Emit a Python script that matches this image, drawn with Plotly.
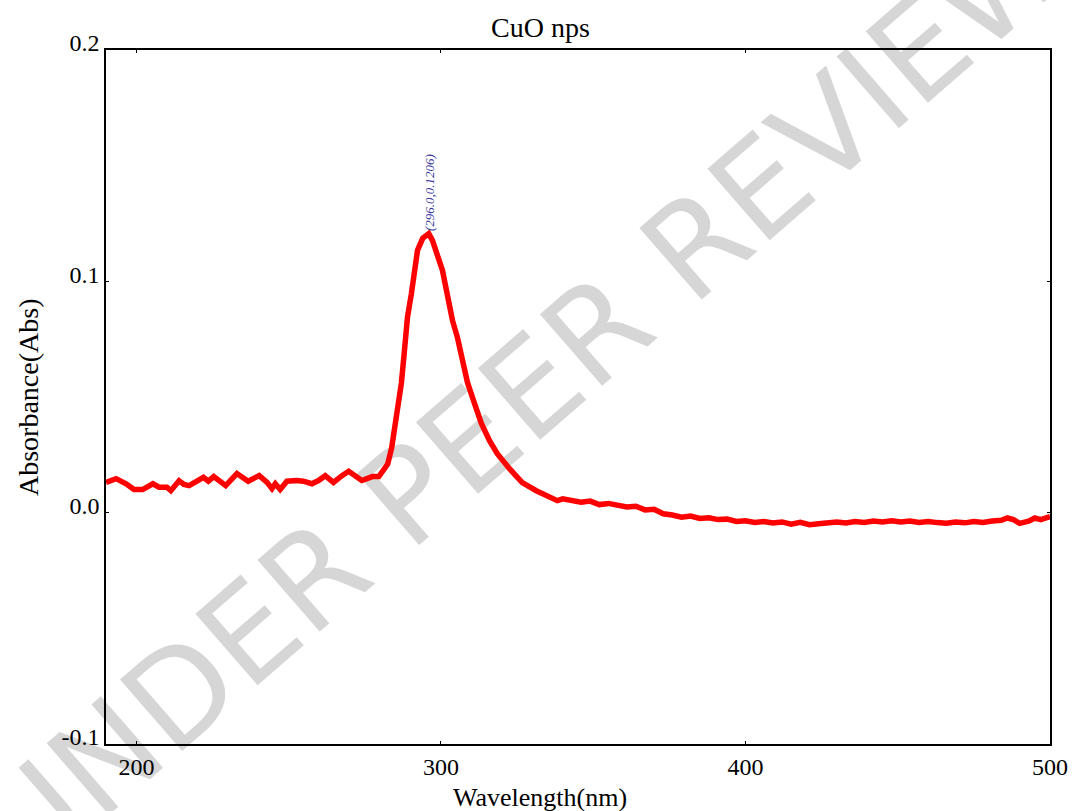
import plotly.graph_objects as go

# ---- data ----
wavelength = [
    190, 193.3, 196.6, 199.2, 202, 205.4, 207.4, 210, 211.3, 214, 215.6, 217.3,
    222, 223.6, 225.4, 229.3, 233, 236.7, 240.3, 242.9, 244.5, 245.6, 247.2,
    249.4, 252.6, 254.8, 257.6, 259.8, 262, 264.7, 267.5, 269.7, 274, 277.5,
    279.6, 281.3, 282.5, 283.8, 285.4, 287, 288, 289, 290.3, 291.3, 292.3,
    294, 296, 297.2, 298.9, 300.5, 302, 303.8, 305.4, 307, 308.7, 311, 313.3,
    315.9, 318.5, 322.5, 326.7, 331.3, 335.6, 338.2, 340, 343, 346, 349, 352,
    355, 358, 361, 364, 367, 370, 373, 376, 379, 382, 385, 388, 391, 394, 397,
    400, 403, 406, 409, 412, 415, 418, 421, 424, 427, 430, 433, 436, 439, 442,
    445, 448, 451, 454, 457, 460, 463, 466, 469, 472, 475, 478, 481, 484, 486,
    488, 490, 493, 495, 497, 500,
]
absorbance = [
    0.0131, 0.0147, 0.0125, 0.0100, 0.0100, 0.0125, 0.0110, 0.0110, 0.0095,
    0.0138, 0.0122, 0.0117, 0.0153, 0.0136, 0.0156, 0.0117, 0.0169, 0.0136,
    0.0160, 0.0131, 0.0104, 0.0125, 0.0100, 0.0136, 0.0139, 0.0136, 0.0125,
    0.0139, 0.0160, 0.0131, 0.0160, 0.0179, 0.0139, 0.0156, 0.0156, 0.0186,
    0.0210, 0.0280, 0.0410, 0.0560, 0.0700, 0.0844, 0.0948, 0.1060, 0.1134,
    0.1186, 0.1206, 0.1177, 0.1110, 0.1047, 0.0948, 0.0830, 0.0758, 0.0658,
    0.0563, 0.0472, 0.0385, 0.0312, 0.0255, 0.0190, 0.0130, 0.0095, 0.0065,
    0.0052, 0.0060, 0.0050, 0.0045, 0.0050, 0.0035, 0.0040, 0.0030, 0.0025,
    0.0028, 0.0012, 0.0015, -0.0005, -0.0010, -0.0020, -0.0015, -0.0025,
    -0.0022, -0.0030, -0.0028, -0.0038, -0.0035, -0.0042, -0.0038, -0.0045,
    -0.0040, -0.0050, -0.0042, -0.0052, -0.0048, -0.0045, -0.0040, -0.0045,
    -0.0038, -0.0042, -0.0036, -0.0040, -0.0035, -0.0040, -0.0036, -0.0042,
    -0.0038, -0.0043, -0.0046, -0.0040, -0.0044, -0.0038, -0.0042, -0.0036,
    -0.0033, -0.0023, -0.0030, -0.0046, -0.0037, -0.0023, -0.0030, -0.0017,
]
peak_x = 296.0
peak_y = 0.1206

x_ticks = [200, 300, 400, 500]
y_ticks = [-0.1, 0.0, 0.1, 0.2]
y_ticktext = ["-0.1", "0.0", "0.1", "0.2"]

title_text = "CuO nps"
x_title = "Wavelength(nm)"
y_title = "Absorbance(Abs)"
watermark = "UNDER PEER REVIEW"

SERIF = "Liberation Serif, Times New Roman, serif"

fig = go.Figure()
fig.add_trace(go.Scatter(
    x=wavelength, y=absorbance, mode="lines",
    line=dict(color="#ff0000", width=5.5),
    showlegend=False, hoverinfo="x+y",
))

axis_common = dict(
    showline=True, linecolor="black", linewidth=1.5, mirror="ticks",
    ticks="inside", ticklen=3, tickwidth=1, tickcolor="black",
    showgrid=False, zeroline=False, automargin=False,
    tickfont=dict(family=SERIF, size=24, color="black"),
)
fig.update_xaxes(range=[190, 500], tickvals=x_ticks, ticklabelstandoff=0, **axis_common)
fig.update_yaxes(range=[-0.1, 0.2], tickvals=y_ticks, ticktext=y_ticktext,
                 ticklabelstandoff=0, ticklabelshift=-7, **axis_common)

# peak label
fig.add_annotation(
    x=peak_x, y=peak_y, text=f"({peak_x:.1f},{peak_y:.4f})",
    showarrow=False, textangle=-90, yanchor="bottom", xanchor="center", yshift=1,
    font=dict(family=SERIF, size=13, color="#3a3a9c", style="italic"),
)

# titles
fig.add_annotation(text=title_text, xref="paper", yref="paper", x=0.46, y=1.0,
                   yanchor="middle", yshift=23, showarrow=False,
                   font=dict(family=SERIF, size=28, color="black"))
fig.add_annotation(text=x_title, xref="paper", yref="paper", x=0.46, y=0,
                   yanchor="middle", yshift=-53, showarrow=False,
                   font=dict(family=SERIF, size=26, color="black"))
fig.add_annotation(text=y_title, xref="paper", yref="paper", x=0, y=0.5,
                   xanchor="center", xshift=-78, textangle=-90, showarrow=False,
                   font=dict(family=SERIF, size=28, color="black"))

# watermark drawn below the data
fig.add_shape(
    type="line", xref="paper", yref="paper", x0=0.188, y0=0.125, x1=0.788, y1=0.725,
    line=dict(width=0, color="rgba(0,0,0,0)"), layer="below",
    label=dict(text=watermark, textangle=-41, textposition="middle",
               font=dict(family="DejaVu Sans", size=130, color="#d6d6d6")),
)

fig.update_layout(
    width=1073, height=811,
    margin=dict(l=106, r=23, t=50, b=67),
    paper_bgcolor="white", plot_bgcolor="rgba(0,0,0,0)",
)

fig.write_html("out.html")
